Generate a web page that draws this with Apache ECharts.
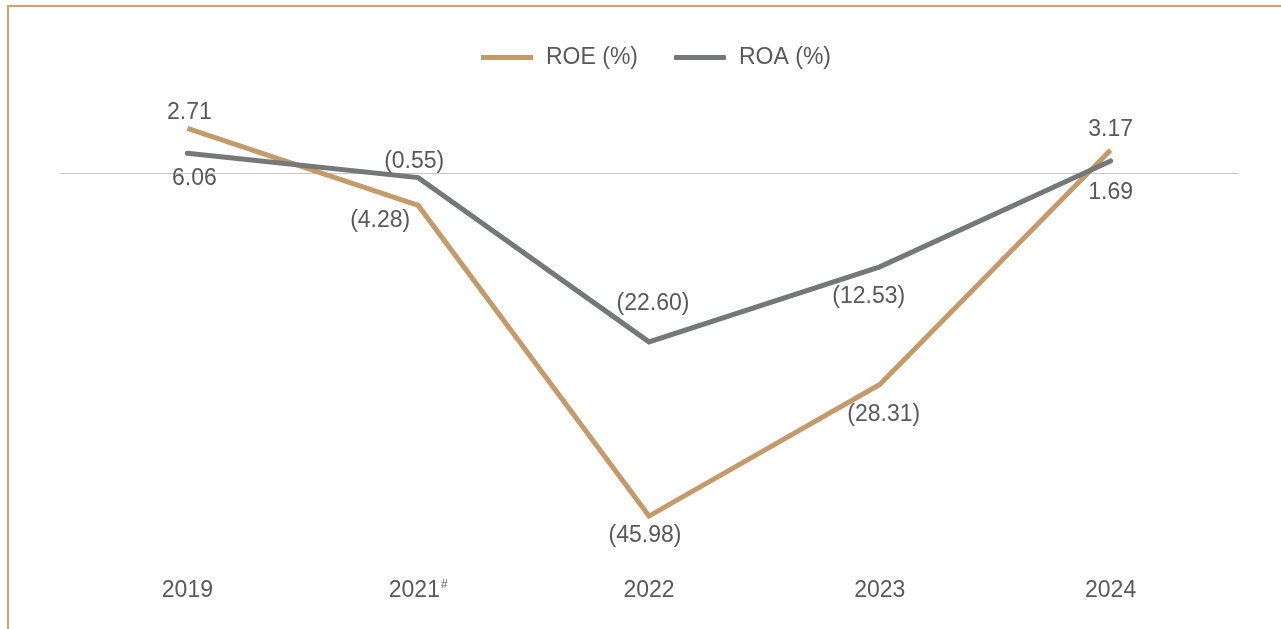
<!DOCTYPE html>
<html>
<head>
<meta charset="utf-8">
<script src="https://cdn.jsdelivr.net/npm/echarts@6/dist/echarts.min.js"></script>
<style>
  html, body { margin: 0; padding: 0; background: #ffffff; }
  #frame { position: absolute; left: 7px; top: 5px; width: 1274px; height: 624px;
           border-top: 2px solid #d6a06c; border-left: 2px solid #d6a06c; box-sizing: border-box; }
  #chart { position: absolute; left: 0; top: 0; width: 1281px; height: 629px; }
</style>
</head>
<body>
<div id="frame"></div>
<div id="chart"></div>
<script>
// ---- data ----
const categories = ['2019', '2021#', '2022', '2023', '2024'];
const roeValues = [6.06, -4.28, -45.98, -28.31, 3.17];
const roaValues = [2.71, -0.55, -22.60, -12.53, 1.69];
const seriesNames = ['ROE (%)', 'ROA (%)'];

// ---- label placement (style) ----
const roeLabelOffsets = [[7, 50], [-38, 15], [-4, 20], [4, 30], [0, -20]];
const roaLabelOffsets = [[2, -41], [-4, -16], [4, -38], [-11, 30], [0, 32]];

const ROE_COLOR = '#c49a6b';
const ROA_COLOR = '#747877';
const TEXT_COLOR = '#595959';
const FONT = '"Liberation Sans", Arial, Helvetica, sans-serif';
const FS = 23;

function fmt(v) {
  const s = Math.abs(v).toFixed(2);
  return v < 0 ? '(' + s + ')' : s;
}
function buildData(values, offsets) {
  return values.map((v, i) => ({
    value: v,
    label: { offset: offsets[i] }
  }));
}

const chart = echarts.init(document.getElementById('chart'), null, { renderer: 'canvas' });
const yCommon = { type: 'value', min: -50, max: 10, interval: 10, show: false, splitLine: { show: false } };

chart.setOption({
  animation: false,
  backgroundColor: 'transparent',
  textStyle: { fontFamily: FONT },
  legend: {
    top: 41,
    left: 476,
    itemWidth: 52,
    itemHeight: 5,
    itemGap: 36,
    data: [
      { name: seriesNames[0], icon: 'rect' },
      { name: seriesNames[1], icon: 'roundRect' }
    ],
    textStyle: { color: TEXT_COLOR, fontSize: FS, fontFamily: FONT, padding: [0, 0, 0, 8] }
  },
  grid: [
    { left: 72, right: 55, top: 99, height: 447 },
    { left: 60, right: 43, top: 99, height: 447 }
  ],
  xAxis: [
    {
      type: 'category', gridIndex: 0, data: categories, boundaryGap: true,
      axisLine: { show: false, onZero: false },
      axisTick: { show: false },
      splitLine: { show: false },
      axisLabel: {
        margin: 33,
        color: TEXT_COLOR, fontSize: FS, fontFamily: FONT,
        formatter: function (v) { return v.replace('#', '{sup|#}'); },
        rich: { sup: { fontSize: 12, color: TEXT_COLOR, fontFamily: FONT, verticalAlign: 'top', padding: [0, 0, 10, 1] } }
      }
    },
    {
      type: 'category', gridIndex: 1, data: categories, boundaryGap: true,
      axisLine: { show: true, onZero: true, lineStyle: { color: '#c6c6c6', width: 1 } },
      axisTick: { show: false },
      axisLabel: { show: false },
      splitLine: { show: false }
    }
  ],
  yAxis: [
    Object.assign({ gridIndex: 0 }, yCommon),
    Object.assign({ gridIndex: 1 }, yCommon)
  ],
  series: [
    {
      name: seriesNames[0], type: 'line', xAxisIndex: 0, yAxisIndex: 0,
      data: buildData(roeValues, roeLabelOffsets),
      symbol: 'circle', symbolSize: 0.1, showSymbol: true, z: 3,
      color: ROE_COLOR,
      itemStyle: { color: ROE_COLOR },
      lineStyle: { color: ROE_COLOR, width: 5, cap: 'butt', join: 'miter' },
      label: {
        show: true, position: 'inside',
        color: TEXT_COLOR, fontSize: FS, fontFamily: FONT,
        formatter: p => fmt(p.value)
      }
    },
    {
      name: seriesNames[1], type: 'line', xAxisIndex: 0, yAxisIndex: 0,
      data: buildData(roaValues, roaLabelOffsets),
      symbol: 'circle', symbolSize: 0.1, showSymbol: true, z: 4,
      color: ROA_COLOR,
      itemStyle: { color: ROA_COLOR },
      lineStyle: { color: ROA_COLOR, width: 5, cap: 'round', join: 'miter' },
      label: {
        show: true, position: 'inside',
        color: TEXT_COLOR, fontSize: FS, fontFamily: FONT,
        formatter: p => fmt(p.value)
      }
    }
  ]
});
</script>
</body>
</html>
